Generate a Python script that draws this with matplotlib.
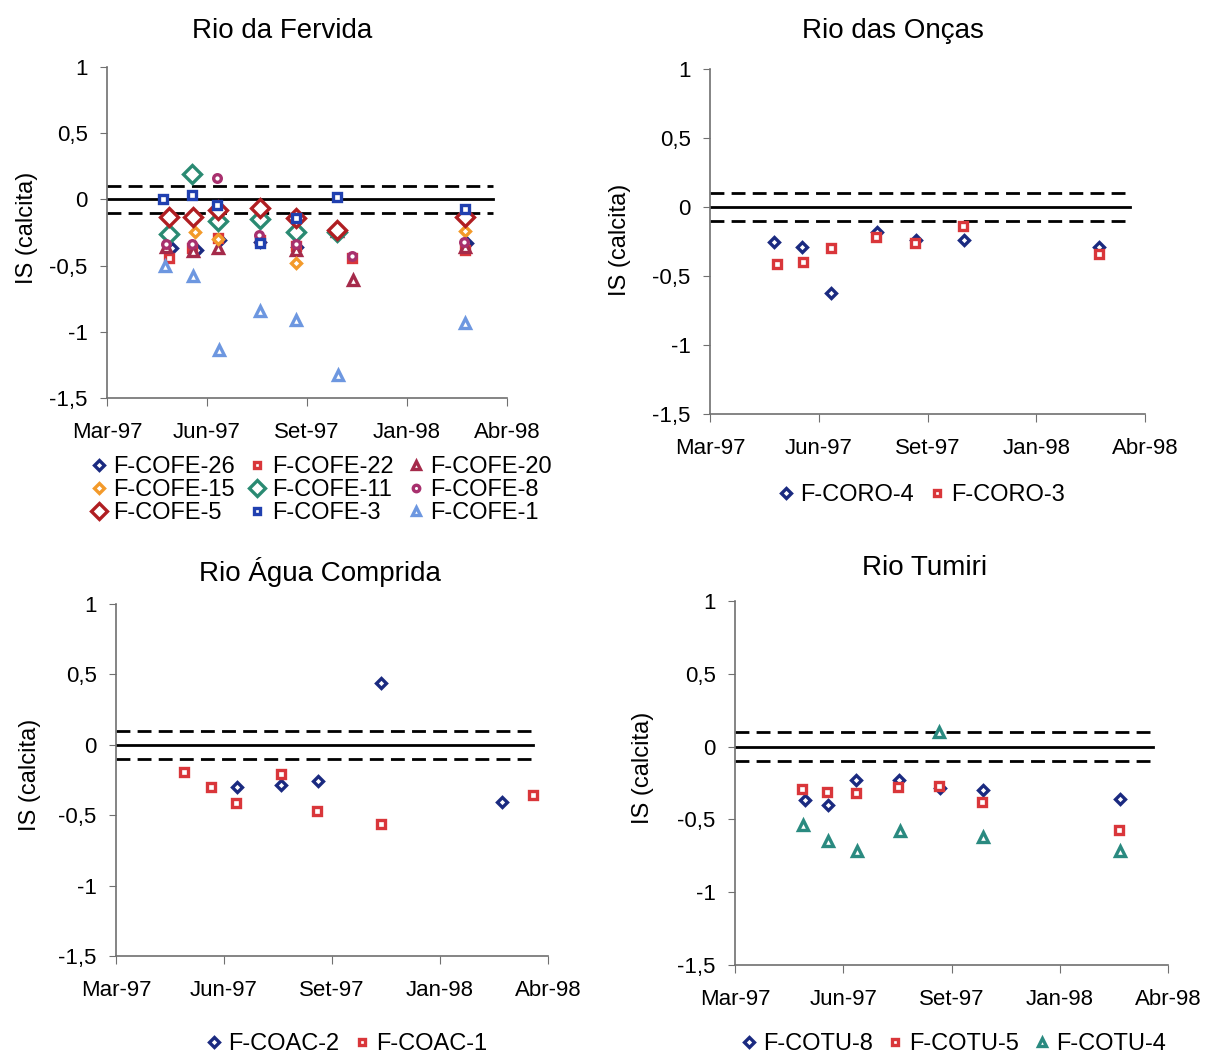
import matplotlib.pyplot as plt

W, H = 1205, 1056

meses = ["Mar-97", "Jun-97", "Set-97", "Jan-98", "Abr-98"]
limites = [-0.1, 0.1]  # faixa de equilibrio

# dias desde 01/03/97 e indice de saturacao (calcita)
# Rio da Fervida
cofe26_d = [68, 94, 119, 161, 200, 242, 378]
cofe26_is = [-0.365, -0.38, -0.31, -0.32, -0.36, -0.24, -0.33]
cofe22_d = [65, 89, 117, 161, 198, 242, 257, 376]
cofe22_is = [-0.44, -0.37, -0.29, -0.31, -0.35, -0.24, -0.44, -0.38]
cofe20_d = [62, 90, 117, 198, 242, 258, 376]
cofe20_is = [-0.36, -0.39, -0.37, -0.38, -0.24, -0.61, -0.36]
cofe15_d = [65, 92, 117, 161, 198, 242, 376]
cofe15_is = [-0.28, -0.25, -0.30, -0.08, -0.48, -0.23, -0.24]
cofe11_d = [65, 89, 117, 161, 198, 242]
cofe11_is = [-0.265, 0.19, -0.16, -0.15, -0.25, -0.25]
cofe8_d = [62, 89, 116, 160, 198, 242, 257, 375]
cofe8_is = [-0.34, -0.34, 0.16, -0.27, -0.34, -0.22, -0.43, -0.32]
cofe5_d = [65, 90, 117, 161, 198, 242, 376]
cofe5_is = [-0.13, -0.13, -0.08, -0.065, -0.14, -0.23, -0.13]
cofe3_d = [59, 89, 116, 161, 198, 242, 376]
cofe3_is = [0.0, 0.03, -0.045, -0.33, -0.14, 0.02, -0.075]
cofe1_d = [61, 90, 118, 161, 198, 243, 376]
cofe1_is = [-0.505, -0.58, -1.14, -0.84, -0.91, -1.33, -0.93]

# Rio das Oncas
coro4_d = [62, 89, 117, 161, 199, 245, 376]
coro4_is = [-0.25, -0.29, -0.62, -0.18, -0.24, -0.24, -0.29]
coro3_d = [65, 90, 117, 160, 198, 244, 376]
coro3_is = [-0.41, -0.40, -0.30, -0.22, -0.26, -0.14, -0.34]

# Rio Agua Comprida
coac2_d = [118, 160, 196, 258, 375]
coac2_is = [-0.30, -0.285, -0.255, 0.44, -0.405]
coac1_d = [66, 92, 117, 160, 195, 258, 405]
coac1_is = [-0.195, -0.30, -0.41, -0.21, -0.47, -0.56, -0.36]

# Rio Tumiri
cotu8_d = [68, 90, 117, 159, 199, 241, 373]
cotu8_is = [-0.37, -0.40, -0.23, -0.23, -0.285, -0.30, -0.36]
cotu5_d = [65, 89, 117, 158, 198, 240, 372]
cotu5_is = [-0.29, -0.31, -0.32, -0.275, -0.27, -0.38, -0.57]
cotu4_d = [66, 90, 118, 160, 198, 241, 373]
cotu4_is = [-0.54, -0.65, -0.72, -0.58, 0.10, -0.62, -0.72]

NAVY = "#1a2a80"
RED = "#d9363a"


def pos(l, t, r, b):
    return [l / W, 1 - b / H, (r - l) / W, (b - t) / H]


def painel(fig, caixa, titulo, tit_xy, ylab_xy, series, leg_xy, ncol, ordem=None):
    ax = fig.add_axes(pos(*caixa))
    for v in limites:
        ax.axhline(v, xmax=0.965, color="black", lw=2, dashes=(5, 2.6), zorder=1)
    ax.axhline(0, xmax=0.965, color="black", lw=2, zorder=1)

    handles = []
    for nome, d, v, mk, cor, ms in series:
        h, = ax.plot(d, v, ls="none", marker=mk, ms=ms, mfc="white", mec=cor,
                     mew=2.4, label=nome, zorder=3)
        handles.append(h)

    ax.set_xlim(0, 420)
    ax.set_ylim(-1.5, 1)
    ax.set_xticks([0, 105, 210, 315, 420])
    ax.set_xticklabels(meses)
    yt = [-1.5, -1, -0.5, 0, 0.5, 1]
    ax.set_yticks(yt)
    ax.set_yticklabels([f"{v:g}".replace(".", ",") for v in yt])
    for s in ["top", "right"]:
        ax.spines[s].set_visible(False)
    for s in ["left", "bottom"]:
        ax.spines[s].set_color("#707070")
        ax.spines[s].set_linewidth(1.2)
    ax.tick_params(axis="x", direction="out", length=6, color="#707070",
                   labelsize=16, pad=11)
    ax.tick_params(axis="y", direction="out", length=5, color="#707070",
                   labelsize=16, pad=9)

    fig.text(tit_xy[0] / W, 1 - tit_xy[1] / H, titulo, ha="center",
             va="center", fontsize=20)
    fig.text(ylab_xy[0] / W, 1 - ylab_xy[1] / H, "IS (calcita)", ha="center",
             va="center", rotation=90, fontsize=17)

    if ordem is not None:
        handles = [handles[i] for i in ordem]
    fig.legend(handles=handles, loc="center", ncol=ncol,
               bbox_to_anchor=(leg_xy[0] / W, 1 - leg_xy[1] / H),
               frameon=False, fontsize=17, handletextpad=0.15,
               columnspacing=0.5, labelspacing=0.05, handlelength=0.9,
               markerscale=0.85, borderpad=0)
    return ax


def main():
    plt.rcParams["font.family"] = ["Liberation Sans", "DejaVu Sans"]
    fig = plt.figure(figsize=(W / 100, H / 100), dpi=100)

    fervida = [
        ("F-COFE-26", cofe26_d, cofe26_is, "D", NAVY, 5.5),
        ("F-COFE-22", cofe22_d, cofe22_is, "s", RED, 5.5),
        ("F-COFE-20", cofe20_d, cofe20_is, "^", "#a52a4a", 6.5),
        ("F-COFE-15", cofe15_d, cofe15_is, "D", "#f39a2a", 5.5),
        ("F-COFE-11", cofe11_d, cofe11_is, "D", "#2a8a72", 9),
        ("F-COFE-8", cofe8_d, cofe8_is, "o", "#a8306e", 5.5),
        ("F-COFE-5", cofe5_d, cofe5_is, "D", "#b01e22", 9),
        ("F-COFE-3", cofe3_d, cofe3_is, "s", "#2040b0", 5.5),
        ("F-COFE-1", cofe1_d, cofe1_is, "^", "#6d97e0", 6.5),
    ]
    painel(fig, (107, 67, 507, 398), "Rio da Fervida", (282, 31), (27, 228),
           fervida, (320, 490), 3, ordem=[0, 3, 6, 1, 4, 7, 2, 5, 8])

    oncas = [
        ("F-CORO-4", coro4_d, coro4_is, "D", NAVY, 5.5),
        ("F-CORO-3", coro3_d, coro3_is, "s", RED, 5.5),
    ]
    painel(fig, (710, 69, 1145, 414), "Rio das Onças", (893, 31), (620, 240),
           oncas, (920, 495), 2)

    agua = [
        ("F-COAC-2", coac2_d, coac2_is, "D", NAVY, 5.5),
        ("F-COAC-1", coac1_d, coac1_is, "s", RED, 5.5),
    ]
    painel(fig, (116, 604, 548, 956), "Rio Água Comprida", (320, 572),
           (30, 775), agua, (345, 1044), 2)

    tumiri = [
        ("F-COTU-8", cotu8_d, cotu8_is, "D", NAVY, 5.5),
        ("F-COTU-5", cotu5_d, cotu5_is, "s", RED, 5.5),
        ("F-COTU-4", cotu4_d, cotu4_is, "^", "#2a8a80", 6.5),
    ]
    painel(fig, (735, 601, 1168, 965), "Rio Tumiri", (925, 568), (643, 768),
           tumiri, (952, 1044), 3)

    fig.savefig("out.png", dpi=100)


if __name__ == "__main__":
    main()
